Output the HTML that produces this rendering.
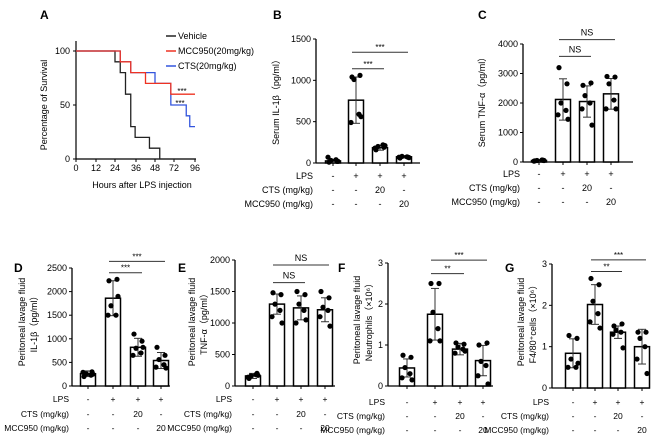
<!DOCTYPE html>
<html><head><meta charset="utf-8"><style>
body{margin:0;background:#fff}
svg{display:block;font-family:"Liberation Sans",Arial,sans-serif}
</style></head><body>
<svg id="fig" width="662" height="443" viewBox="0 0 662 443" xmlns="http://www.w3.org/2000/svg"></svg>
<script>
// ---- Panel A data ----
const survTicks=[0,12,24,36,48,72,96];
const vehT=[0,24,27,30,33,35.5,44.5,54,96];
const vehS=[100,90,80,60,30,20,10,0,0];
const mccT=[0,27,33,42,68,96];
const mccS=[100,90,80,70,60,60];
const ctsT=[0,27,33,48,68,86,90,96];
const ctsS=[100,90,80,70,50,40,30,30];
// ---- Panel B ----
const bMeans=[25,760,185,75];
const bSD=[20,280,30,15];
const bPts=[[10,20,30,40,70,20],[1040,1060,1010,590,490,560],[160,190,200,220,180,210],[60,70,80,75,70,65]];
const bTicks=[0,500,1000,1500];
// ---- Panel C ----
const cMeans=[50,2120,2050,2310];
const cSD=[30,700,530,520];
const cPts=[[40,60,50,70,30,50],[3200,2650,2000,1750,1600,1450],[2600,2680,2250,2000,1800,1250],[2900,2880,2650,2100,1800,1800]];
const cTicks=[0,1000,2000,3000,4000];
// ---- Panel D ----
const dMeans=[260,1860,820,540];
const dSD=[60,370,190,170];
const dPts=[[200,300,260,230,290,250],[2230,2260,1700,1500,1500,1900],[1100,950,800,700,650,820],[820,650,560,450,400,380]];
const dTicks=[0,500,1000,1500,2000,2500];
// ---- Panel E ----
const eMeans=[160,1300,1240,1210];
const eSD=[40,160,190,190];
const ePts=[[120,200,160,180,140,170],[1480,1450,1300,1200,1100,1000],[1500,1450,1300,1200,1000,1050],[1500,1400,1250,1200,1100,950]];
const eTicks=[0,500,1000,1500,2000];
// ---- Panel F ----
const fMeans=[0.44,1.75,0.9,0.62];
const fSD=[0.22,0.63,0.14,0.37];
const fPts=[[0.75,0.7,0.45,0.3,0.2,0.15],[2.5,2.5,1.8,1.4,1.1,1.1],[1.05,1.02,0.95,0.9,0.8,0.85],[1.0,1.05,0.6,0.5,0.25,0.05]];
const fTicks=[0,1,2,3];
// ---- Panel G ----
const gMeans=[0.84,2.02,1.35,1.0];
const gSD=[0.35,0.48,0.15,0.42];
const gPts=[[1.27,1.2,0.7,0.5,0.5,0.6],[2.65,2.5,2.1,1.8,1.6,1.45],[1.5,1.55,1.4,1.35,1.3,0.97],[1.35,1.35,1.2,1.0,0.7,0.35]];
const gTicks=[0,1,2,3];
const condLPS=['-','+','+','+'];
const condCTS=['-','-','20','-'];
const condMCC=['-','-','-','20'];

const svg=document.getElementById('fig');
const NS='http://www.w3.org/2000/svg';
function mk(tag,attrs,parent){const e=document.createElementNS(NS,tag);for(const k in attrs)e.setAttribute(k,attrs[k]);(parent||svg).appendChild(e);return e;}
function txt(s,x,y,size,anchor,parent,extra){const t=mk('text',Object.assign({x:x,y:y,'font-size':size,'text-anchor':anchor||'middle',fill:'#000'},extra||{}),parent);t.textContent=s;return t;}

// ---- Panel A ----
(function(){
  const g=mk('g',{});
  
  
  const px=[76,96,115,136,155,174,195];
  const x0=76,y0=159,yTop=51;
  function X(h){for(let i=0;i<survTicks.length-1;i++){if(h<=survTicks[i+1]){return px[i]+(h-survTicks[i])/(survTicks[i+1]-survTicks[i])*(px[i+1]-px[i]);}}return px[px.length-1];}
  function Y(v){return y0-(v/100)*(y0-yTop);}
  const lbl=txt('A',40,19,12,'start',g,{'font-weight':'bold'});
  
  mk('line',{x1:x0,y1:41,x2:x0,y2:y0,stroke:'#000','stroke-width':1.2},g);
  mk('line',{x1:x0,y1:y0,x2:196,y2:y0,stroke:'#000','stroke-width':1.2},g);
  survTicks.forEach((t,i)=>{mk('line',{x1:X(t),y1:y0,x2:X(t),y2:y0+3,stroke:'#000'},g);txt(String(t),X(t),y0+12,9,'middle',g);});
  [0,50,100].forEach(v=>{mk('line',{x1:x0-3,y1:Y(v),x2:x0,y2:Y(v),stroke:'#000'},g);txt(String(v),x0-6,Y(v)+3,9,'end',g);});
  txt('Percentage of Survival',0,0,9,'middle',g,{transform:'translate(47,105) rotate(-90)'});
  txt('Hours after LPS injection',142,188,9,'middle',g);
  function step(T,S,color,name){let d='M'+X(T[0])+','+Y(S[0]);for(let i=1;i<T.length;i++){d+=' H'+X(T[i])+' V'+Y(S[i]);}
    const p=mk('path',{d:d,fill:'none',stroke:color,'stroke-width':1.3},g);}
  step(vehT,vehS,'#222','vehicle-curve');
  step(ctsT,ctsS,'#3355dd','cts-curve');
  step(mccT,mccS,'#ee3322','mcc950-curve');
  txt('***',182,94,8,'middle',g);txt('***',180,106,8,'middle',g);
  const leg=[['Vehicle','#222'],['MCC950(20mg/kg)','#ee3322'],['CTS(20mg/kg)','#3355dd']];
  leg.forEach((l,i)=>{const y=36+i*15;const lg=mk('g',{},g);
    mk('line',{x1:166,y1:y,x2:176,y2:y,stroke:l[1],'stroke-width':1.5},lg);txt(l[0],178,y+3,9,'start',lg);});
})();

// ---- Bar panels ----
function barPanel(o){
  const g=mk('g',{});
  
  
  const Y=v=>o.y0-(v/o.ymax)*(o.y0-o.yTop);
  const l=txt(o.letter,o.lx,o.ly,12,'start',g,{'font-weight':'bold'});
  
  mk('line',{x1:o.ax,y1:Y(o.ymax),x2:o.ax,y2:o.y0,stroke:'#000','stroke-width':1.3},g);
  mk('line',{x1:o.ax,y1:o.y0,x2:o.xend,y2:o.y0,stroke:'#000','stroke-width':1.3},g);
  o.ticks.forEach(t=>{mk('line',{x1:o.ax-3,y1:Y(t),x2:o.ax,y2:Y(t),stroke:'#000'},g);txt(String(t),o.ax-5,Y(t)+3,9,'end',g);});
  o.ytitle.forEach((s,i)=>{txt(s,0,0,9,'middle',g,{transform:'translate('+(o.tx+i*12)+','+o.ty+') rotate(-90)'});});
  const bw=15,off=[-4,4,-2,3,-5,5];
  o.means.forEach((m,i)=>{const cx=o.cx[i];
    const b=mk('rect',{x:cx-bw/2,y:Y(m),width:bw,height:o.y0-Y(m),fill:'#fff',stroke:'#000','stroke-width':1.5},g);
    
    const lo=Math.max(0,m-o.sd[i]),hi=m+o.sd[i];
    mk('line',{x1:cx,y1:Y(lo),x2:cx,y2:Y(hi),stroke:'#333','stroke-width':1},g);
    mk('line',{x1:cx-4,y1:Y(hi),x2:cx+4,y2:Y(hi),stroke:'#333','stroke-width':1},g);
    mk('line',{x1:cx-4,y1:Y(lo),x2:cx+4,y2:Y(lo),stroke:'#333','stroke-width':1},g);
    mk('line',{x1:cx,y1:o.y0,x2:cx,y2:o.y0+3,stroke:'#000'},g);
    o.pts[i].forEach((v,j)=>{const c=mk('circle',{cx:cx+off[j%6],cy:Y(v),r:2.6,fill:'#000'},g);});
  });
  o.sig.forEach(s=>{const y=Y(s[2]);mk('line',{x1:o.cx[s[0]]-4,y1:y,x2:o.cx[s[1]]+4,y2:y,stroke:'#333','stroke-width':1},g);
    txt(s[3],(o.cx[s[0]]+o.cx[s[1]])/2,s[3]==='NS'?y-4:y-2,s[3]==='NS'?9:8,'middle',g);});
  const rows=[['LPS',condLPS],['CTS (mg/kg)',condCTS],['MCC950 (mg/kg)',condMCC]];
  const fs=o.rfs||9;
  rows.forEach((r,k)=>{const y=o.ry[k];txt(r[0],o.ax-3,y+3,fs,'end',g);r[1].forEach((c,i)=>txt(c,o.cx[i],y+3,fs,'middle',g));});
}
barPanel({name:'panel-b-serum-il1b',letter:'B',lx:273,ly:19,ax:316,xend:420,y0:163,yTop:39,ymax:1500,ticks:bTicks,means:bMeans,sd:bSD,pts:bPts,cx:[333,356,380,404],
  ytitle:['Serum IL-1β（pg/ml）'],tx:279,ty:100,sig:[[1,2,1140,'***'],[1,3,1340,'***']],ry:[176,190,204]});
barPanel({name:'panel-c-serum-tnfa',letter:'C',lx:478,ly:19,ax:523,xend:633,y0:162,yTop:44,ymax:4000,ticks:cTicks,means:cMeans,sd:cSD,pts:cPts,cx:[539,563,587,611],
  ytitle:['Serum TNF-α（pg/ml）'],tx:485,ty:100,sig:[[1,2,3580,'NS'],[1,3,4150,'NS']],ry:[174,188,202]});
barPanel({name:'panel-d-pl-il1b',letter:'D',lx:14,ly:272,ax:72,xend:170,y0:386,yTop:268,ymax:2500,ticks:dTicks,means:dMeans,sd:dSD,pts:dPts,cx:[88,113,138,161],rfs:8.5,
  ytitle:['Peritoneal lavage fluid','IL-1β（pg/ml）'],tx:25,ty:322,sig:[[1,2,2400,'***'],[1,3,2640,'***']],ry:[399,414,428]});
barPanel({name:'panel-e-pl-tnfa',letter:'E',lx:178,ly:272,ax:235,xend:335,y0:386,yTop:260,ymax:2000,ticks:eTicks,means:eMeans,sd:eSD,pts:ePts,cx:[253,277,301,325],rfs:8.5,
  ytitle:['Peritoneal lavage fluid','TNF-α（pg/ml）'],tx:195,ty:322,sig:[[1,2,1640,'NS'],[1,3,1920,'NS']],ry:[399,414,428]});
barPanel({name:'panel-f-neutrophils',letter:'F',lx:338,ly:272,ax:388,xend:493,y0:386,yTop:263,ymax:3,ticks:fTicks,means:fMeans,sd:fSD,pts:fPts,cx:[407,435,460,483],rfs:8.5,
  ytitle:['Peritoneal lavage fluid','Neutrophils（×10⁶）'],tx:360,ty:320,sig:[[1,2,2.74,'**'],[1,3,3.07,'***']],ry:[402,416,430]});
barPanel({name:'panel-g-f480-cells',letter:'G',lx:505,ly:272,ax:552,xend:650,y0:388,yTop:264,ymax:3,ticks:gTicks,means:gMeans,sd:gSD,pts:gPts,cx:[573,595,618,642],rfs:8.5,
  ytitle:['Peritoneal lavage fluid','F4/80⁺cells（×10⁶）'],tx:524,ty:322,sig:[[1,2,2.82,'**'],[1,3,3.1,'***']],ry:[402,416,430]});
</script>
</body></html>
